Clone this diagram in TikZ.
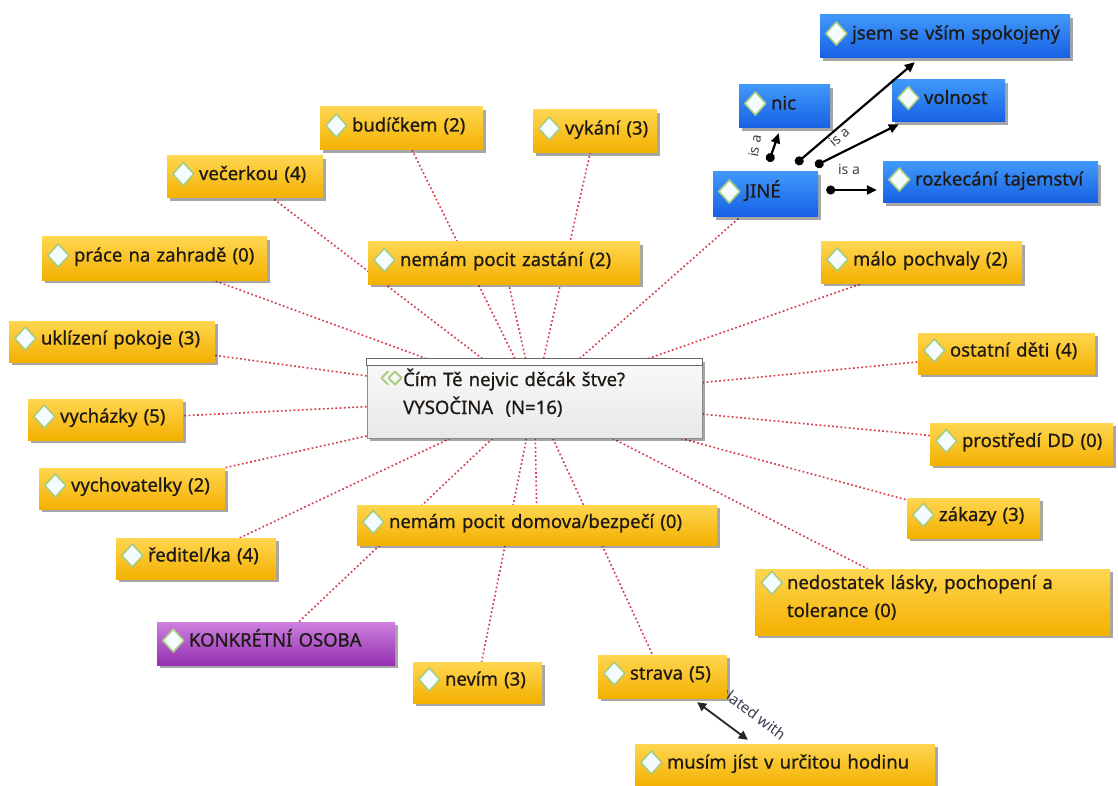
\documentclass[tikz,border=0pt]{standalone}
\usepackage{fontspec}
\setmainfont{Noto Sans}[FakeBold=0.7]
\newfontfamily\lblfont{Noto Sans}
\usetikzlibrary{shadows,backgrounds,arrows.meta,calc}
\definecolor{ink}{RGB}{30,25,20}
\definecolor{yT}{RGB}{255,214,80}
\definecolor{yB}{RGB}{243,176,0}
\definecolor{bT}{RGB}{64,152,250}
\definecolor{bB}{RGB}{22,96,228}
\definecolor{pT}{RGB}{205,128,222}
\definecolor{pB}{RGB}{148,48,178}
\definecolor{dotred}{RGB}{214,62,78}
\definecolor{icb}{RGB}{168,204,128}
\definecolor{icf}{RGB}{245,252,255}
\begin{document}
\begin{tikzpicture}[x=1pt,y=-1pt,
  nbox/.style 2 args={minimum width=#1, text width=#1, minimum height=#2,
    inner xsep=0pt, inner ysep=0pt, align=left, text height=16pt, text depth=10pt,
    font=\fontsize{18.5}{28}\selectfont, text=ink,
    execute at begin node={\leftskip=32pt\relax},
    drop shadow={shadow xshift=3pt, shadow yshift=-3pt, opacity=0.35, fill=black}},
  ybox/.style 2 args={nbox={#1}{#2}, top color=yT, bottom color=yB},
  bbox/.style 2 args={nbox={#1}{#2}, top color=bT, bottom color=bB},
  pbox/.style 2 args={nbox={#1}{#2}, top color=pT, bottom color=pB},
  icon/.style={fill=icf, draw=icb, line width=1.6pt, line join=round},
  rel/.style={dotred, line width=1.6pt, dash pattern=on 1.8pt off 2.4pt},
  isa/.style={black, line width=2.2pt, arrows={Circle[length=9pt,width=9pt]-Triangle[length=10pt,width=9pt]}},
  relarrow/.style={black!85, line width=1.8pt, arrows={Triangle[length=9pt,width=9pt]-Triangle[length=9pt,width=9pt]}},
  isalbl/.style={font=\lblfont\fontsize{14}{16}\selectfont, text=black!75, inner sep=0pt},
  rellbl/.style={font=\lblfont\fontsize{15}{17}\selectfont, text={rgb,255:red,60;green,60;blue,80}, inner sep=0pt},
  cbox/.style={minimum width=335, minimum height=79, inner sep=0pt, draw=black!45, line width=0.8pt,
    top color=black!2, bottom color=black!9,
    drop shadow={shadow xshift=3pt, shadow yshift=-3pt, opacity=0.35, fill=black}},
  cbar/.style={fill=white, draw=black!60, line width=1pt},
  ctext/.style={text width=290, align=left, inner sep=0pt, font=\fontsize{18.5}{28}\selectfont, text=ink},
  chev/.style={draw=icb, line width=2pt, line join=round, line cap=round}
]
\useasboundingbox (0,0) rectangle (1118,786);

% central node
\node[cbox] (c) at (534.5,398.5) {};
\draw[cbar] (c.north west) rectangle ($(c.north east)+(0,7)$);
\node[ctext, anchor=base west] (ct) at (403,386) {Čím Tě nejvic děcák štve?\\VYSOČINA\ \ (N=16)};
\draw[chev] (388,371.5) -- (381.5,378) -- (388,384.5);
\draw[chev] (395,371.5) -- (401.5,378) -- (395,384.5) -- (388.5,378) -- cycle;

% yellow nodes
\node[ybox={163}{43}] (bud) at (401.5,128.5) {budíčkem (2)};
\node[ybox={124}{43}] (vyk) at (595,131.5) {vykání (3)};
\node[ybox={156}{42}] (vec) at (245,177) {večerkou (4)};
\node[ybox={272}{42}] (zast) at (504,263) {nemám pocit zastání (2)};
\node[ybox={225}{43}] (prace) at (154.5,258.5) {práce na zahradě (0)};
\node[ybox={206}{41}] (ukl) at (112,341.5) {uklízení pokoje (3)};
\node[ybox={155}{41}] (vychaz) at (105.5,419.5) {vycházky (5)};
\node[ybox={186}{41}] (vychov) at (132,488.5) {vychovatelky (2)};
\node[ybox={160}{41}] (red) at (196,558.5) {ředitel/ka (4)};
\node[ybox={360}{40}] (domov) at (537,525) {nemám pocit domova/bezpečí (0)};
\node[pbox={238}{43}] (konk) at (276,643.5) {KONKRÉTNÍ OSOBA};
\node[ybox={129}{41}] (nevim) at (477.5,682.5) {nevím (3)};
\node[ybox={129}{43}] (strava) at (662.5,676.5) {strava (5)};
\node[ybox={300}{43}] (musim) at (785,765.5) {musím jíst v určitou hodinu};
\node[ybox={201}{41}] (malo) at (921.5,262.5) {málo pochvaly (2)};
\node[ybox={177}{41}] (ostat) at (1006.5,353.5) {ostatní děti (4)};
\node[ybox={183}{42}] (prost) at (1021.5,444) {prostředí DD (0)};
\node[ybox={133}{40}] (zakaz) at (973.5,518) {zákazy (3)};
\node[ybox={355}{66}, text depth=42pt] (nedo) at (932.5,602) {nedostatek lásky, pochopení a\\tolerance (0)};

% blue nodes
\node[bbox={250}{43}] (jsem) at (945,36.5) {jsem se vším spokojený};
\node[bbox={91}{43}] (nic) at (784.5,106.5) {nic};
\node[bbox={113}{42}] (voln) at (948.5,101) {volnost};
\node[bbox={105}{45}] (jine) at (765.5,194.5) {JINÉ};
\node[bbox={215}{41}] (rozk) at (990.5,182.5) {rozkecání tajemství};

% diamond icons
\foreach \n in {bud,vyk,vec,zast,prace,ukl,vychaz,vychov,red,domov,konk,nevim,strava,musim,malo,ostat,prost,zakaz,jsem,nic,voln,jine,rozk}
  \draw[icon] ($(\n.west)+(6,-3)$) -- ++(10.5,-11.5) -- ++(10.5,11.5) -- ++(-10.5,11.5) -- cycle;
\draw[icon] ($(nedo.north west)+(6.5,14)$) -- ++(10.5,-11.5) -- ++(10.5,11.5) -- ++(-10.5,11.5) -- cycle;

% is-a relations
\draw[isa] ($(jine.north west)+(56,-10)$) -- ($(nic.south west)+(40,5)$);
\draw[isa] ($(jine.north west)+(83,-8)$) -- ($(jsem.south west)+(95,4)$);
\draw[isa] ($(jine.north east)+(-3,-6)$) -- ($(voln.south west)+(7,2)$);
\draw[isa] ($(jine.east)+(8,-4.5)$) -- ($(rozk.west)+(-6,7.5)$);
\node[isalbl, rotate=80] (l1) at (755,146) {is a};
\node[isalbl, rotate=41] (l2) at (839,137) {is a};
\node[isalbl] (l3) at (849,169) {is a};

% related with
\draw[relarrow] ($(strava.south east)+(-30,4)$) -- ($(musim.north west)+(113,-4)$);

\begin{scope}[on background layer]
  \fill[white] (0,0) rectangle (1118,786);
  \foreach \n in {bud,vyk,vec,zast,prace,ukl,vychaz,vychov,red,domov,konk,nevim,strava,malo,ostat,prost,zakaz,nedo,jine}
    \draw[rel] (c) -- (\n);
  \node[rellbl, rotate=-37] (lrel) at (751,711) {related with};
\end{scope}
\end{tikzpicture}
\end{document}
